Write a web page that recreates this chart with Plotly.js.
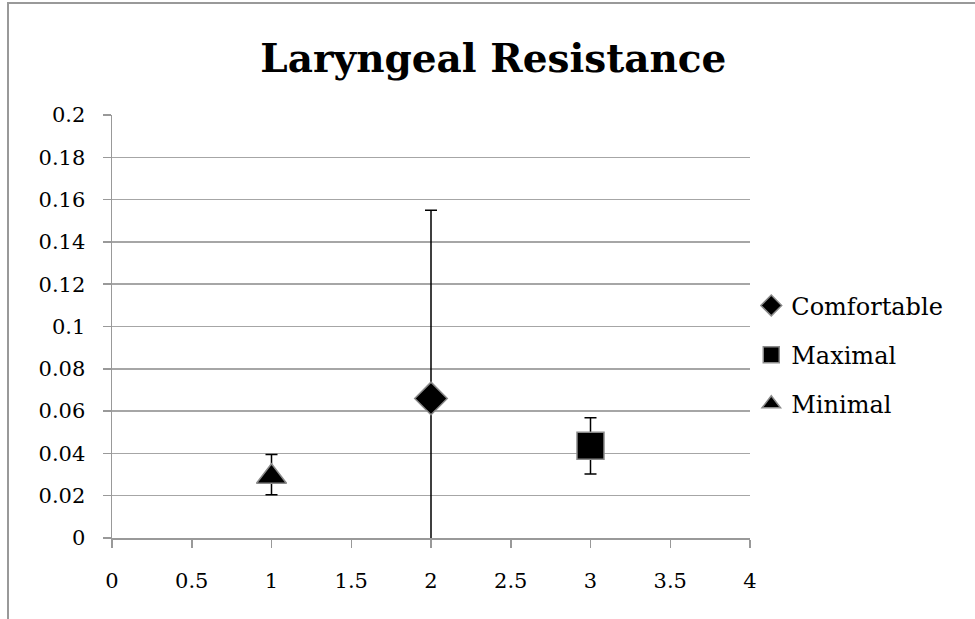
<!DOCTYPE html>
<html>
<head>
<meta charset="utf-8">
<script src="https://cdn.plot.ly/plotly-3.0.1.min.js"></script>
<style>
  html, body { margin: 0; padding: 0; background: #fff; }
  #frame { position: absolute; left: 7px; top: 2px; width: 968px; height: 617px; border-left: 2px solid #999; border-top: 2px solid #999; box-sizing: border-box; }
  #chart { position: absolute; left: 0; top: 0; width: 975px; height: 619px; }
</style>
</head>
<body>
<div id="frame"></div>
<div id="chart"></div>
<script>
const seriesNames = ["Comfortable", "Maximal", "Minimal"];
const seriesX = [[2], [3], [1]];
const seriesY = [[0.066], [0.0436], [0.029]];
const errPlus = [[0.089], [0.0133], [0.0105]];
const errMinus = [[0.089], [0.0133], [0.0085]];
const symbols = ["diamond", "square", "triangle-up"];
const sizes = [25, 27, 26];
const xTicks = [0, 0.5, 1, 1.5, 2, 2.5, 3, 3.5, 4];
const yTicks = [0, 0.02, 0.04, 0.06, 0.08, 0.1, 0.12, 0.14, 0.16, 0.18, 0.2];

const font = "DejaVu Serif, serif";
const traces = seriesNames.map((n, i) => ({
  type: "scatter", mode: "markers", name: n,
  x: seriesX[i], y: seriesY[i], legendgroup: n,
  marker: { symbol: symbols[i], size: sizes[i], color: "#000", line: { color: "#8a8a8a", width: 1.5 } },
  error_y: { type: "data", symmetric: false, array: errPlus[i], arrayminus: errMinus[i], color: "#000", thickness: 1.5, width: 6 },
  cliponaxis: false
}));

const layout = {
  width: 975, height: 619,
  paper_bgcolor: "rgba(0,0,0,0)", plot_bgcolor: "rgba(0,0,0,0)",
  margin: { l: 112, r: 225, t: 115, b: 81 },
  title: { text: "<b>Laryngeal Resistance</b>", font: { family: font, size: 39, color: "#000" }, x: 0.506, xref: "container", xanchor: "center", y: 0.905, yref: "container", yanchor: "middle" },
  font: { family: font, size: 21, color: "#000" },
  showlegend: true,
  legend: { x: 1.002, y: 0.433, xanchor: "left", yanchor: "middle", traceorder: "grouped", tracegroupgap: 15, itemwidth: 30, font: { family: font, size: 24 } },
  xaxis: { range: [0, 4], tickvals: xTicks, ticktext: xTicks.map(String), showgrid: false, zeroline: false, showline: true, linecolor: "#999", linewidth: 1.5, ticks: "outside", ticklen: 8, tickcolor: "#999", tickwidth: 1.5, ticklabelstandoff: 15 },
  yaxis: { range: [0, 0.2], tickvals: yTicks, ticktext: yTicks.map(String), showgrid: true, gridcolor: "#a6a6a6", gridwidth: 1.5, zeroline: false, showline: true, linecolor: "#999", linewidth: 1.5, ticks: "outside", ticklen: 8, tickcolor: "#999", tickwidth: 1.5, ticklabelstandoff: 13 }
};
Plotly.newPlot("chart", traces, layout, { displayModeBar: false, staticPlot: true });
</script>
</body>
</html>
